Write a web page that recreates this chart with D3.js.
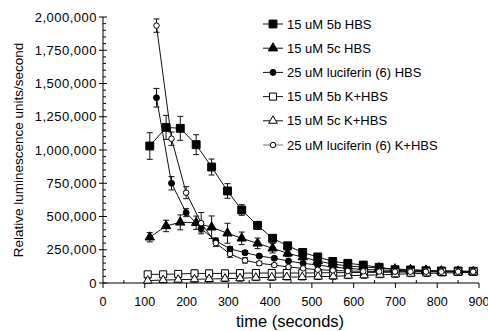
<!DOCTYPE html>
<html>
<head>
<meta charset="utf-8">
<script src="https://cdn.jsdelivr.net/npm/d3@7"></script>
<style>
  body { margin: 0; background: #fff; }
  text { font-family: "Liberation Sans", Arial, sans-serif; fill: #000; }
</style>
</head>
<body>
<div id="container"></div>
<script>
/* CONSTANTS AND GLOBALS */
const width = 488,
  height = 331,
  margin = { top: 17, bottom: 48, left: 103, right: 9 };

/* DATA */
const timeHBS = [112, 151, 185, 223, 260, 298, 332, 370, 406, 442, 478, 514, 550, 586, 623, 661, 699, 736, 773, 810, 850, 886];
const timeLuc = [128, 164, 199, 235, 270, 304, 340, 374, 410, 444, 479, 514, 550, 586, 623, 661, 699, 736, 773, 810, 850, 886];
const timeK = [107, 144, 180, 219, 254, 292, 328, 366, 404, 440, 477, 515, 551, 587, 625, 663, 700, 737, 775, 812, 850, 887];

const mean5bHBS = [1030000, 1170000, 1163000, 1040000, 872000, 692000, 549000, 433000, 336000, 280000, 230000, 196000, 162000, 148000, 135000, 118000, 100000, 98000, 92000, 90000, 90000, 88000];
const err5bHBS = [100000, 90000, 90000, 75000, 60000, 55000, 40000, 30000, 25000, 20000, 18000, 15000, 15000, 12000, 12000, 10000, 10000, 10000, 10000, 10000, 10000, 8000];

const mean5cHBS = [344000, 429000, 456000, 453000, 419000, 374000, 336000, 298000, 261000, 223000, 195000, 165000, 143000, 128000, 120000, 113000, 105000, 100000, 95000, 90000, 88000, 85000];
const err5cHBS = [35000, 43000, 56000, 50000, 85000, 75000, 47000, 40000, 35000, 25000, 20000, 18000, 15000, 12000, 12000, 10000, 10000, 10000, 10000, 10000, 10000, 8000];

const meanLucHBS = [1393000, 750000, 529000, 409000, 318000, 256000, 228000, 203000, 186000, 165000, 148000, 135000, 120000, 110000, 102000, 98000, 95000, 92000, 90000, 88000, 87000, 85000];
const errLucHBS = [70000, 50000, 30000, 25000, 20000, 18000, 15000, 12000, 12000, 10000, 10000, 10000, 10000, 10000, 10000, 10000, 10000, 10000, 10000, 10000, 10000, 8000];

const mean5bK = [65000, 65000, 68000, 72000, 72000, 72000, 74000, 75000, 75000, 75000, 75000, 76000, 78000, 78000, 80000, 80000, 82000, 84000, 85000, 85000, 85000, 85000];
const err5bK = [22000, 22000, 22000, 25000, 25000, 25000, 25000, 25000, 25000, 25000, 25000, 25000, 25000, 25000, 25000, 25000, 25000, 25000, 25000, 25000, 25000, 25000];

const mean5cK = [18000, 22000, 25000, 28000, 30000, 33000, 36000, 40000, 42000, 45000, 45000, 48000, 50000, 55000, 58000, 62000, 65000, 70000, 72000, 75000, 78000, 80000];
const err5cK = [20000, 20000, 20000, 22000, 22000, 22000, 22000, 22000, 22000, 22000, 22000, 22000, 22000, 22000, 22000, 22000, 22000, 22000, 22000, 22000, 22000, 22000];

const meanLucK = [1935000, 1085000, 679000, 450000, 300000, 218000, 170000, 148000, 135000, 120000, 110000, 100000, 95000, 90000, 88000, 86000, 85000, 85000, 85000, 85000, 85000, 85000];
const errLucK = [50000, 50000, 45000, 80000, 25000, 25000, 20000, 15000, 12000, 12000, 10000, 10000, 10000, 10000, 10000, 10000, 10000, 10000, 10000, 10000, 10000, 8000];

const seriesNames = ["15 uM 5b HBS", "15 uM 5c HBS", "25 uM luciferin (6) HBS", "15 uM 5b K+HBS", "15 uM 5c K+HBS", "25 uM luciferin (6) K+HBS"];
const xTicks = [0, 100, 200, 300, 400, 500, 600, 700, 800, 900];
const yTicks = [0, 250000, 500000, 750000, 1000000, 1250000, 1500000, 1750000, 2000000];

const series = [
  { name: seriesNames[0], t: timeHBS, m: mean5bHBS, e: err5bHBS, shape: "square", filled: true },
  { name: seriesNames[1], t: timeHBS, m: mean5cHBS, e: err5cHBS, shape: "triangle", filled: true },
  { name: seriesNames[2], t: timeLuc, m: meanLucHBS, e: errLucHBS, shape: "circle", filled: true },
  { name: seriesNames[3], t: timeK, m: mean5bK, e: err5bK, shape: "square", filled: false },
  { name: seriesNames[4], t: timeK, m: mean5cK, e: err5cK, shape: "triangle", filled: false },
  { name: seriesNames[5], t: timeLuc, m: meanLucK, e: errLucK, shape: "circle", filled: false }
].map(s => ({ ...s, pts: s.t.map((t, i) => ({ t, v: s.m[i], e: s.e[i] })) }));

// SCALES
const xScale = d3.scaleLinear().domain([0, 900]).range([margin.left, width - margin.right]);
const yScale = d3.scaleLinear().domain([0, 2000000]).range([height - margin.bottom, margin.top]);

const svg = d3.select("#container").append("svg")
  .attr("width", width).attr("height", height);

// symbol generator
const symFor = s => {
  if (s.shape === "square") return d3.symbol(d3.symbolSquare, s.filled ? 62 : 50)();
  if (s.shape === "triangle") return d3.symbol(d3.symbolTriangle, s.filled ? 38 : 32)();
  return d3.symbol(d3.symbolCircle, s.filled ? 28 : 24)();
};

// AXES
const x0 = height - margin.bottom;
const xAxis = svg.append("g").attr("stroke", "#000");
xAxis.append("line").attr("x1", xScale(0)).attr("x2", xScale(900)).attr("y1", x0).attr("y2", x0);
xAxis.selectAll(".maj").data(xTicks).join("line")
  .attr("x1", d => xScale(d)).attr("x2", d => xScale(d)).attr("y1", x0).attr("y2", x0 + 5);
xAxis.selectAll(".min").data(d3.range(50, 900, 100)).join("line").attr("class", "min")
  .attr("x1", d => xScale(d)).attr("x2", d => xScale(d)).attr("y1", x0).attr("y2", x0 - 3);
svg.selectAll(".xlab").data(xTicks).join("text").attr("class", "xlab")
  .attr("x", d => xScale(d)).attr("y", 306)
  .attr("text-anchor", "middle").attr("font-size", "12.5px")
  .text(d => d);

const yAxis = svg.append("g").attr("stroke", "#000");
yAxis.append("line").attr("x1", margin.left).attr("x2", margin.left).attr("y1", yScale(0)).attr("y2", yScale(2000000));
yAxis.selectAll(".maj").data(yTicks).join("line")
  .attr("x1", margin.left - 4).attr("x2", margin.left + 4).attr("y1", d => yScale(d)).attr("y2", d => yScale(d));
yAxis.selectAll(".min").data(d3.range(50000, 2000000, 50000).filter(v => v % 250000 !== 0)).join("line").attr("class", "min")
  .attr("x1", margin.left).attr("x2", margin.left + 3).attr("y1", d => yScale(d)).attr("y2", d => yScale(d));
svg.selectAll(".ylab").data(yTicks).join("text").attr("class", "ylab")
  .attr("x", 97).attr("y", d => yScale(d)).attr("dy", "0.36em")
  .attr("text-anchor", "end").attr("font-size", "13px").attr("letter-spacing", "0.5px")
  .text(d => d3.format(",")(d));

// axis titles
svg.append("text")
  .attr("x", 290).attr("y", 327)
  .attr("text-anchor", "middle").attr("font-size", "16.5px")
  .text("time (seconds)");

svg.append("text")
  .attr("transform", "rotate(-90)")
  .attr("x", -150).attr("y", 23)
  .attr("text-anchor", "middle").attr("font-size", "13.5px")
  .text("Relative luminescence units/second");

// LINES
const lineGen = d3.line().x(d => xScale(d.t)).y(d => yScale(d.v));
svg.selectAll(".line").data(series).join("path").attr("class", "line")
  .attr("d", s => lineGen(s.pts))
  .attr("fill", "none").attr("stroke", "#111").attr("stroke-width", 1);

// ERROR BARS
series.forEach(s => {
  const g = svg.append("g").attr("stroke", "#111").attr("stroke-width", 1);
  g.selectAll("line.v").data(s.pts).join("line").attr("class", "v")
    .attr("x1", d => xScale(d.t)).attr("x2", d => xScale(d.t))
    .attr("y1", d => yScale(d.v - d.e)).attr("y2", d => yScale(d.v + d.e));
  g.selectAll("line.top").data(s.pts).join("line").attr("class", "top")
    .attr("x1", d => xScale(d.t) - 3).attr("x2", d => xScale(d.t) + 3)
    .attr("y1", d => yScale(d.v + d.e)).attr("y2", d => yScale(d.v + d.e));
  g.selectAll("line.bot").data(s.pts).join("line").attr("class", "bot")
    .attr("x1", d => xScale(d.t) - 3).attr("x2", d => xScale(d.t) + 3)
    .attr("y1", d => yScale(Math.max(0, d.v - d.e))).attr("y2", d => yScale(Math.max(0, d.v - d.e)));
});

// MARKERS
series.forEach(s => {
  svg.append("g").selectAll("path").data(s.pts).join("path")
    .attr("transform", d => `translate(${xScale(d.t)},${yScale(d.v)})`)
    .attr("d", symFor(s))
    .attr("fill", s.filled ? "#000" : "#fff")
    .attr("stroke", "#000").attr("stroke-width", 1);
});

// LEGEND
const legend = svg.append("g");
series.forEach((s, i) => {
  const y = 24 + i * 24.2;
  legend.append("line").attr("x1", 263).attr("x2", 283).attr("y1", y).attr("y2", y)
    .attr("stroke", i === 5 ? "#777" : "#111");
  legend.append("path").attr("transform", `translate(273,${y})`).attr("d", symFor(s))
    .attr("fill", s.filled ? "#000" : "#fff").attr("stroke", "#000");
  legend.append("text").attr("x", 287).attr("y", y).attr("dy", "0.36em")
    .attr("font-size", "13px").text(s.name);
});
</script>
</body>
</html>
